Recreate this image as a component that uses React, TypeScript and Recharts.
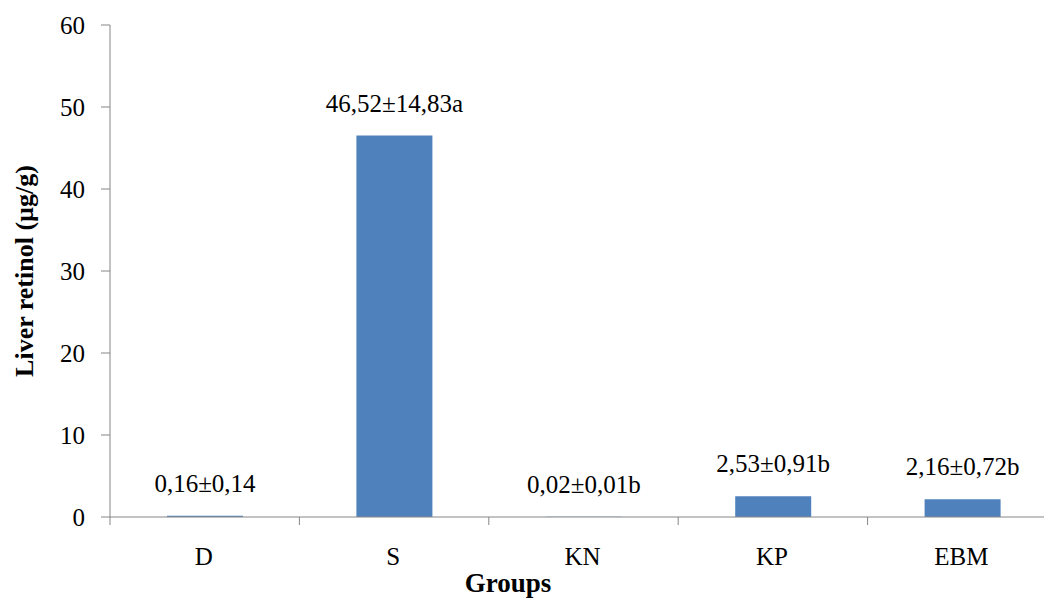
import React from "react";
import { BarChart, Bar, XAxis, YAxis, LabelList } from "recharts";

const categories = ["D", "S", "KN", "KP", "EBM"];
const values = [0.16, 46.52, 0.02, 2.53, 2.16];
const valueLabels = ["0,16±0,14", "46,52±14,83a", "0,02±0,01b", "2,53±0,91b", "2,16±0,72b"];
const yTicks = [0, 10, 20, 30, 40, 50, 60];

const data = categories.map((c, i) => ({ name: c, value: values[i], label: valueLabels[i] }));

const FONT = "'Liberation Serif', 'Times New Roman', serif";
const AXIS_COLOR = "#868686";
const BAR_COLOR = "#4F81BD";

const W = 1044;
const H = 598;
const M = { top: 25, right: -13, bottom: 0, left: 0 };
const Y_W = 110;
const X_H = 81;
const BAND = (W - M.left - M.right - Y_W) / categories.length;

const XTick = (props: any) => {
  const { x, y, payload, index } = props;
  const off = payload && typeof payload.offset === "number" && payload.offset > 0 ? payload.offset : BAND / 2;
  const axisY = y;
  return (
    <g>
      <line x1={x - off} x2={x - off} y1={axisY} y2={axisY + 8} stroke={AXIS_COLOR} strokeWidth={1} />
      {index === categories.length - 1 && (
        <line x1={x + off} x2={x + off} y1={axisY} y2={axisY + 8} stroke={AXIS_COLOR} strokeWidth={1} />
      )}
      <text x={x - 1} y={axisY + 48} textAnchor="middle" fontFamily={FONT} fontSize={25} fill="#000">
        {payload.value}
      </text>
    </g>
  );
};

export default function App() {
  return (
    <div style={{ position: "absolute", left: 0, top: 0, background: "#fff" }}>
      <BarChart width={W} height={H} data={data} margin={M} barCategoryGap="30%">
        <XAxis
          dataKey="name"
          height={X_H}
          axisLine={{ stroke: AXIS_COLOR }}
          tickLine={false}
          tick={<XTick />}
          interval={0}
          tickSize={0}
          tickMargin={0}
        />
        <YAxis
          width={Y_W}
          domain={[0, 60]}
          ticks={yTicks}
          interval={0}
          axisLine={{ stroke: AXIS_COLOR }}
          tickLine={{ stroke: AXIS_COLOR }}
          tickSize={9}
          tickMargin={16}
          tick={{ fontFamily: FONT, fontSize: 25, fill: "#000" }}
        />
        <Bar dataKey="value" fill={BAR_COLOR} barSize={76} isAnimationActive={false}>
          <LabelList
            dataKey="label"
            position="top"
            offset={24}
            style={{ fontFamily: FONT, fontSize: 25, fill: "#000" }}
          />
        </Bar>
        <text
          x={24}
          y={271}
          transform="rotate(-90 24 271)"
          textAnchor="middle"
          dominantBaseline="central"
          fontFamily={FONT}
          fontSize={26}
          fontWeight="bold"
          fill="#000"
        >
          Liver retinol (µg/g)
        </text>
        <text
          x={508}
          y={592}
          textAnchor="middle"
          fontFamily={FONT}
          fontSize={27}
          fontWeight="bold"
          fill="#000"
        >
          Groups
        </text>
      </BarChart>
    </div>
  );
}
